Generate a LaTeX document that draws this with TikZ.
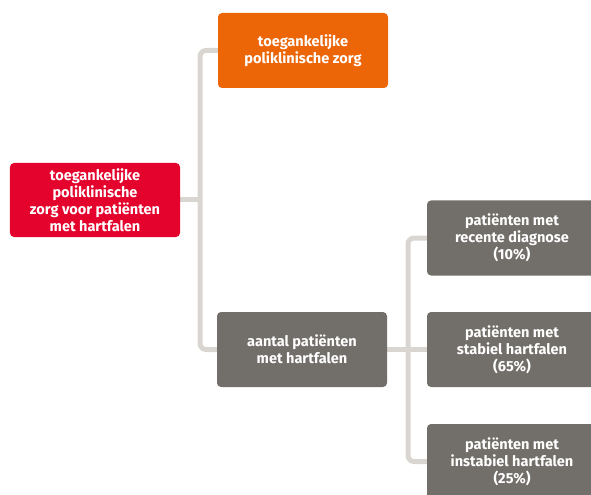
\documentclass[tikz,border=0pt]{standalone}
\usepackage{fontspec}
\setmainfont{Fira Sans}
\usetikzlibrary{backgrounds}
\definecolor{cred}{HTML}{E3032C}
\definecolor{corange}{HTML}{EC6608}
\definecolor{cgrey}{HTML}{726E69}
\definecolor{cline}{HTML}{D9D6D1}
\tikzset{
  box/.style={rectangle, rounded corners=4bp, minimum width=170bp, minimum height=75bp,
    inner sep=2bp, align=center, text=white, font=\fontsize{14.6}{17}\selectfont\bfseries},
  conn/.style={draw=cline, line width=5bp, rounded corners=6bp},
}
\begin{document}
\begin{tikzpicture}[x=1bp,y=-1bp]
\useasboundingbox (0,0) rectangle (591,495);
\clip (0,0) rectangle (591,495);
\node[box, fill=cred, minimum height=74bp] (root) at (95,200) {toegankelijke\\poliklinische\\zorg voor patiënten\\met hartfalen};
\node[box, fill=corange] (zorg) at (303,50.5) {toegankelijke\\poliklinische zorg};
\node[box, fill=cgrey] (aantal) at (302,349.5) {aantal patiënten\\met hartfalen};
\node[box, fill=cgrey] (recent) at (512,238) {patiënten met\\recente diagnose\\(10\%)};
\node[box, fill=cgrey] (stabiel) at (512,349.5) {patiënten met\\stabiel hartfalen\\(65\%)};
\node[box, fill=cgrey] (instabiel) at (512,461.5) {patiënten met\\instabiel hartfalen\\(25\%)};
\coordinate (j1) at (200,200);
\coordinate (j2) at (408,349.5);
\begin{scope}[on background layer]
\draw[conn] (zorg.west) -| (j1) |- (aantal.west);
\draw[conn] (root.east) -- (j1);
\draw[conn] (recent.west) -| (j2) |- (instabiel.west);
\draw[conn] (aantal.east) -- (stabiel.west);
\end{scope}
\end{tikzpicture}
\end{document}
